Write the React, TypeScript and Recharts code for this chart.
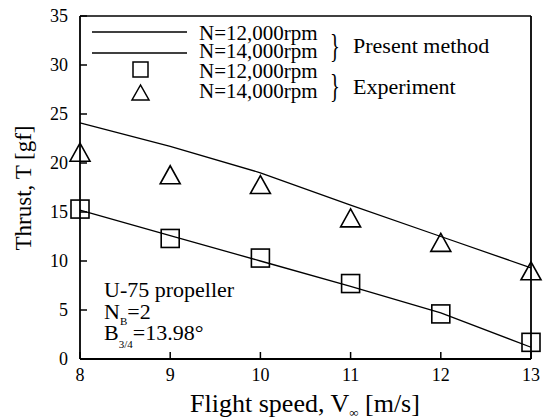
import React from "react";
import {
  ComposedChart,
  Line,
  Scatter,
  XAxis,
  YAxis,
  ReferenceLine,
} from "recharts";

if (typeof document !== "undefined") document.body.style.margin = "0";

const speeds = [8, 9, 10, 11, 12, 13];
const calc12k = [15.2, 12.6, 10.0, 7.4, 4.7, 1.2];
const calc14k = [24.1, 21.7, 19.0, 15.7, 12.5, 9.3];
const exp12k = [15.3, 12.3, 10.3, 7.7, 4.6, 1.7];
const exp14k = [21.0, 18.7, 17.7, 14.3, 11.8, 8.9];
const xTicks = [8, 9, 10, 11, 12, 13];
const yTicks = [0, 5, 10, 15, 20, 25, 30, 35];

const data = speeds.map((v, i) => ({
  v,
  c12: calc12k[i],
  c14: calc14k[i],
  e12: exp12k[i],
  e14: exp14k[i],
}));

const FONT = "'Liberation Serif', 'Times New Roman', serif";

// hollow square marker
const Square = (props: any) => {
  const { cx, cy } = props;
  if (cx == null || cy == null) return null;
  return (
    <rect x={cx - 9} y={cy - 9} width={18} height={18} fill="none" stroke="#000" strokeWidth={1.6} />
  );
};

// hollow triangle marker
const Triangle = (props: any) => {
  const { cx, cy } = props;
  if (cx == null || cy == null) return null;
  return (
    <polygon
      points={`${cx},${cy - 10} ${cx - 10},${cy + 8} ${cx + 10},${cy + 8}`}
      fill="none"
      stroke="#000"
      strokeWidth={1.6}
    />
  );
};

const YTick = (props: any) => {
  const { x, y, payload } = props;
  return (
    <g>
      <line x1={x} x2={x + 7} y1={y} y2={y} stroke="#000" strokeWidth={1.5} />
      <text x={x - 12} y={y + 6} textAnchor="end" fontSize={18} fontFamily={FONT} fill="#000">
        {payload.value}
      </text>
    </g>
  );
};

const XTick = (props: any) => {
  const { x, y, payload } = props;
  return (
    <g>
      <line x1={x} x2={x} y1={y} y2={y - 7} stroke="#000" strokeWidth={1.5} />
      <text x={x} y={y + 22} textAnchor="middle" fontSize={18} fontFamily={FONT} fill="#000">
        {payload.value}
      </text>
    </g>
  );
};

const Brace = ({ x, y }: { x: number; y: number }) => (
  <text
    x={x}
    y={y}
    fontSize={34}
    transform={`translate(${x} ${y}) scale(0.6 1) translate(${-x} ${-y})`}
  >
    {"}"}
  </text>
);

export default function App() {
  return (
    <div style={{ position: "relative", width: 552, height: 419, background: "#fff" }}>
      <ComposedChart
        width={552}
        height={419}
        data={data}
        margin={{ top: 16, right: 21, bottom: 59, left: 79 }}
      >
        <XAxis
          dataKey="v"
          type="number"
          domain={[8, 13]}
          ticks={xTicks}
          height={1}
          tickSize={0}
          tickMargin={0}
          tickLine={false}
          tick={<XTick />}
          axisLine={{ stroke: "#000", strokeWidth: 1.8 }}
          interval={0}
        />
        <YAxis
          type="number"
          domain={[0, 35]}
          ticks={yTicks}
          width={1}
          tickSize={0}
          tickMargin={0}
          tickLine={false}
          tick={<YTick />}
          axisLine={{ stroke: "#000", strokeWidth: 1.8 }}
          interval={0}
        />
        <ReferenceLine y={35} stroke="#000" strokeWidth={1.5} />
        <ReferenceLine x={13} stroke="#000" strokeWidth={1.8} />
        <Line dataKey="c12" stroke="#000" strokeWidth={1.3} dot={false} isAnimationActive={false} type="linear" />
        <Line dataKey="c14" stroke="#000" strokeWidth={1.3} dot={false} isAnimationActive={false} type="linear" />
        <Scatter dataKey="e12" shape={<Square />} isAnimationActive={false} />
        <Scatter dataKey="e14" shape={<Triangle />} isAnimationActive={false} />
      </ComposedChart>
      <svg
        width={552}
        height={419}
        style={{ position: "absolute", left: 0, top: 0, pointerEvents: "none" }}
        fontFamily={FONT}
      >
        {/* legend */}
        <line x1={92} x2={187} y1={32} y2={32} stroke="#000" strokeWidth={1.3} />
        <line x1={92} x2={187} y1={53} y2={53} stroke="#000" strokeWidth={1.3} />
        <text x={199} y={40} fontSize={21}>N=12,000rpm</text>
        <text x={199} y={58} fontSize={21}>N=14,000rpm</text>
        <Brace x={330} y={57} />
        <text x={353} y={53} fontSize={22}>Present method</text>
        <rect x={133} y={62} width={15} height={15} fill="none" stroke="#000" strokeWidth={1.5} />
        <polygon points="140.5,85 132,100 149,100" fill="none" stroke="#000" strokeWidth={1.5} />
        <text x={199} y={78} fontSize={21}>N=12,000rpm</text>
        <text x={199} y={98} fontSize={21}>N=14,000rpm</text>
        <Brace x={330} y={97} />
        <text x={353} y={94} fontSize={22}>Experiment</text>
        {/* annotation */}
        <text x={104} y={297} fontSize={22}>U-75 propeller</text>
        <text x={104} y={319} fontSize={22}>
          N<tspan fontSize={11} dy={6}>B</tspan>
          <tspan dy={-6}>=2</tspan>
        </text>
        <text x={104} y={340} fontSize={22}>
          B<tspan fontSize={11} dy={8}>3/4</tspan>
          <tspan dy={-8}>=13.98°</tspan>
        </text>
        {/* axis titles */}
        <text x={305} y={412} fontSize={26} textAnchor="middle">
          Flight speed, V<tspan fontSize={13} dy={5}>∞</tspan>
          <tspan dy={-5}> [m/s]</tspan>
        </text>
        <text x={31} y={188} fontSize={23} textAnchor="middle" transform="rotate(-90 31 188)">
          Thrust, T [gf]
        </text>
      </svg>
    </div>
  );
}
